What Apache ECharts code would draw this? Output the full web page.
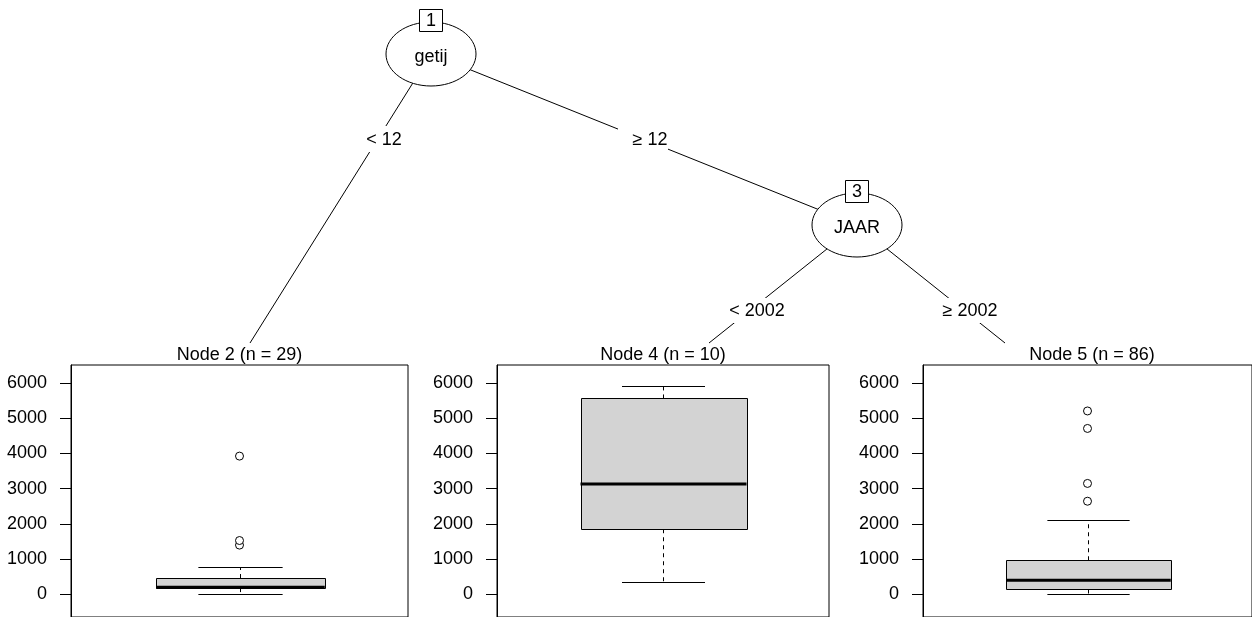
<!DOCTYPE html>
<html>
<head>
<meta charset="utf-8">
<title>ctree</title>
<script src="https://cdn.jsdelivr.net/npm/echarts@6/dist/echarts.min.js"></script>
<style>
  html, body { margin: 0; padding: 0; background: #fff; }
  #main { width: 1252px; height: 617px; }
</style>
</head>
<body>
<div id="main"></div>
<script>
// data
var nodeTitles = ['Node 2 (n = 29)', 'Node 4 (n = 10)', 'Node 5 (n = 86)'];
// [lower whisker, q1, median, q3, upper whisker]
var node2Box = [0, 180, 205, 466, 765];
var node4Box = [346, 1850, 3131, 5561, 5907];
var node5Box = [0, 140, 400, 970, 2112];
var node2Out = [1400, 1530, 3925];
var node4Out = [];
var node5Out = [2645, 3150, 4710, 5206];
var yTicks = [0, 1000, 2000, 3000, 4000, 5000, 6000];
var splitVars = ['getij', 'JAAR'];
var splitIds = ['1', '3'];
var splitLabels = ['< 12', '≥ 12', '< 2002', '≥ 2002'];

var FONT = '"Liberation Sans", Arial, Helvetica, sans-serif';

// layout of the tree (pixels)
var panels = [
    {left: 71, width: 337},
    {left: 497, width: 332},
    {left: 923, width: 340}
];
var inner = [{cx: 431, cy: 54}, {cx: 857, cy: 225}];
var edgeEnds = [[250, 343], [857, 225], [709, 343], [1005, 343]];
var edgeFrom = [0, 0, 1, 1];
var labelBoxes = [
    {x: 358, y: 126, w: 52, h: 26, tx: 384, ty: 140},
    {x: 618, y: 127, w: 50, h: 26, tx: 650, ty: 140},
    {x: 717, y: 298, w: 81, h: 25, tx: 757, ty: 311},
    {x: 926, y: 298, w: 80, h: 25, tx: 970, ty: 311}
];

function crisp(v) { return Math.round(v) + 0.5; }

function renderBox(params, api) {
    var x = api.value(0);
    var lo = api.coord([x, api.value(1)]);
    var q1 = api.coord([x, api.value(2)]);
    var med = api.coord([x, api.value(3)]);
    var q3 = api.coord([x, api.value(4)]);
    var hi = api.coord([x, api.value(5)]);
    var band = api.size([1, 0])[0];
    var bw = band * 0.5, cw = band * 0.25;
    var cx = crisp(lo[0]);
    var dash = {stroke: '#000', lineWidth: 1, lineDash: [4, 4]};
    var solid = {stroke: '#000', lineWidth: 1};
    return {
        type: 'group',
        children: [
            {type: 'line', shape: {x1: cx, y1: q3[1], x2: cx, y2: hi[1]}, style: dash},
            {type: 'line', shape: {x1: cx, y1: q1[1], x2: cx, y2: lo[1]}, style: dash},
            {type: 'line', shape: {x1: cx - cw / 2, y1: crisp(hi[1]), x2: cx + cw / 2, y2: crisp(hi[1])}, style: solid},
            {type: 'line', shape: {x1: cx - cw / 2, y1: crisp(lo[1]), x2: cx + cw / 2, y2: crisp(lo[1])}, style: solid},
            {type: 'rect', shape: {x: crisp(cx - bw / 2), y: crisp(q3[1]), width: Math.round(bw), height: Math.round(q1[1] - q3[1])},
                style: {fill: '#d3d3d3', stroke: '#000', lineWidth: 1}},
            {type: 'line', shape: {x1: cx - bw / 2, y1: med[1], x2: cx + bw / 2, y2: med[1]}, style: {stroke: '#000', lineWidth: 3}}
        ]
    };
}

var boxes = [node2Box, node4Box, node5Box];
var outs = [node2Out, node4Out, node5Out];

var grids = [], xAxes = [], yAxes = [], series = [];
panels.forEach(function (p, i) {
    grids.push({left: p.left, top: 365, width: p.width, height: 255, show: true,
        borderColor: '#000', borderWidth: 1, backgroundColor: 'transparent'});
    xAxes.push({type: 'category', gridIndex: i, data: [nodeTitles[i]], show: false});
    yAxes.push({
        type: 'value', gridIndex: i, min: -640, max: 6510,
        splitLine: {show: false},
        axisLine: {show: true, lineStyle: {color: '#000'}},
        axisTick: {show: true, length: 11, customValues: yTicks, lineStyle: {color: '#000'}},
        axisLabel: {show: true, customValues: yTicks, margin: 24, fontSize: 18, color: '#000', fontFamily: FONT,
            padding: [4, 0, 0, 0],
            formatter: function (v) { return String(v); }}
    });
    series.push({
        type: 'custom', xAxisIndex: i, yAxisIndex: i, renderItem: renderBox,
        encode: {x: 0, y: [1, 2, 3, 4, 5]},
        data: [[0].concat(boxes[i])], silent: true
    });
    series.push({
        type: 'scatter', xAxisIndex: i, yAxisIndex: i, symbol: 'circle', symbolSize: 8,
        itemStyle: {color: '#fff', borderColor: '#000', borderWidth: 1, opacity: 1},
        data: outs[i].map(function (v) { return [0, v]; }), silent: true
    });
});

var gfx = [];
// edges
edgeEnds.forEach(function (e, i) {
    var f = inner[edgeFrom[i]];
    gfx.push({type: 'line', z: 10, shape: {x1: f.cx, y1: f.cy, x2: e[0], y2: e[1]},
        style: {stroke: '#000', lineWidth: 1}});
});
// edge labels
labelBoxes.forEach(function (b, i) {
    gfx.push({type: 'rect', z: 11, shape: {x: b.x, y: b.y, width: b.w, height: b.h},
        style: {fill: '#fff', stroke: null}});
    gfx.push({type: 'text', z: 12, x: b.tx, y: b.ty,
        style: {text: splitLabels[i], fill: '#000', font: '18px ' + FONT, textAlign: 'center', textVerticalAlign: 'middle'}});
});
// inner nodes
inner.forEach(function (n, i) {
    gfx.push({type: 'ellipse', z: 13, shape: {cx: n.cx, cy: n.cy, rx: 45, ry: 32},
        style: {fill: '#fff', stroke: '#000', lineWidth: 1}});
    gfx.push({type: 'text', z: 14, x: n.cx, y: n.cy + 3,
        style: {text: splitVars[i], fill: '#000', font: '18px ' + FONT, textAlign: 'center', textVerticalAlign: 'middle'}});
    gfx.push({type: 'rect', z: 15, shape: {x: n.cx - 11.5, y: n.cy - 44.5, width: 23, height: 22},
        style: {fill: '#fff', stroke: '#000', lineWidth: 1}});
    gfx.push({type: 'text', z: 16, x: n.cx, y: n.cy - 33,
        style: {text: splitIds[i], fill: '#000', font: '18px ' + FONT, textAlign: 'center', textVerticalAlign: 'middle'}});
});
// node titles
panels.forEach(function (p, i) {
    gfx.push({type: 'text', z: 16, x: p.left + p.width / 2, y: 355,
        style: {text: nodeTitles[i], fill: '#000', font: '18px ' + FONT, textAlign: 'center', textVerticalAlign: 'middle'}});
});
// title of node 5 centred on its box, not on the clipped panel
gfx[gfx.length - 1].x = 1092;

var chart = echarts.init(document.getElementById('main'), null, {renderer: 'canvas'});
chart.setOption({
    animation: false,
    backgroundColor: '#fff',
    textStyle: {fontFamily: FONT},
    grid: grids,
    xAxis: xAxes,
    yAxis: yAxes,
    series: series,
    graphic: gfx
});
</script>
</body>
</html>
